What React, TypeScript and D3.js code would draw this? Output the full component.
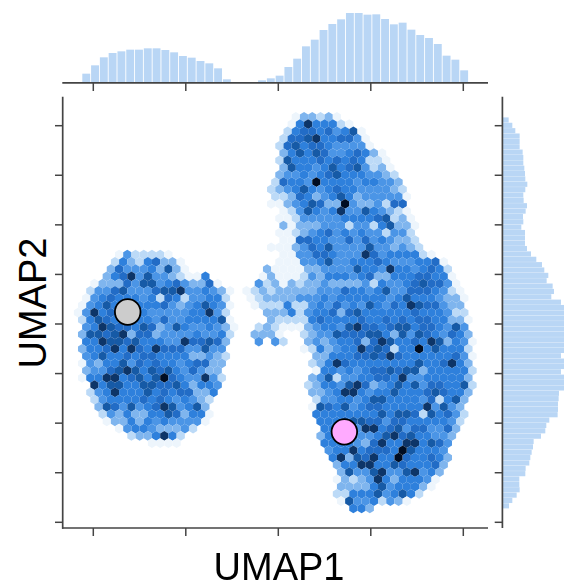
import React from "react";
import * as d3 from "d3";

const WIDTH = 564;
const HEIGHT = 585;

const xLabel = "UMAP1";
const yLabel = "UMAP2";

// Tick values in data units (tick labels are hidden in the reference)
const xTickValues = [-10, -5, 0, 5, 10];
const yTickValues = [10, 8, 6, 4, 2, 0, -2, -4, -6];

// Marginal histogram counts, left to right
const topHist = [25, 50, 74, 87, 92, 97, 97, 101, 101, 96, 89, 78, 73, 63, 56, 41, 8, 0, 0, 0, 5, 11, 19, 45, 70, 107, 127, 156, 174, 188, 207, 207, 202, 203, 189, 173, 178, 157, 141, 132, 114, 79, 67, 35];
// Marginal histogram counts, top to bottom
const rightHist = [17, 28, 37, 50, 50, 50, 59, 61, 61, 64, 66, 67, 73, 67, 61, 62, 72, 68, 60, 61, 55, 66, 66, 66, 72, 84, 100, 117, 124, 136, 131, 149, 153, 145, 174, 184, 190, 195, 200, 205, 200, 196, 190, 192, 174, 184, 190, 174, 185, 190, 184, 168, 167, 165, 165, 164, 139, 130, 127, 114, 92, 90, 86, 82, 79, 68, 67, 49, 49, 50, 41, 28, 18];

// Hexbin cells: [grid row, first grid column, intensity levels 0-9 per cell]
const leftCluster: [number, number, string][] = [
  [19, 4, "1422221"],
  [20, 4, "253256331"],
  [21, 3, "3644453731"],
  [22, 3, "3568474432115"],
  [23, 1, "1333647745643361"],
  [24, 1, "244674446778445431"],
  [25, 0, "145655545265244552"],
  [26, 0, "1457555555643457541"],
  [27, -1, "1485655554444455842"],
  [28, 0, "2576544554644555571"],
  [29, 0, "4587665763475445431"],
  [30, 0, "3776783663444454452"],
  [31, 0, "558776755544866763"],
  [32, 0, "355685865866644744"],
  [33, 0, "457556566555533432"],
  [34, 0, "143557465655456633"],
  [35, 0, "34467875767546433"],
  [36, 0, "155885675796544842"],
  [37, 1, "8577557766753554"],
  [38, 1, "2458555756566335"],
  [39, 1, "245555656545432"],
  [40, 2, "37647456874573"],
  [41, 2, "24353355763551"],
  [42, 3, "1335354544441"],
  [43, 4, "1455433342"],
  [44, 6, "2335852"],
  [45, 8, "1111"],
];
const rightCluster: [number, number, string][] = [
  [0, 26, "133231"],
  [1, 25, "15855521"],
  [2, 25, "2566564571"],
  [3, 24, "26678556641"],
  [4, 24, "267566544441"],
  [5, 24, "3575764456531"],
  [6, 24, "27555656565221"],
  [7, 24, "37554575674231"],
  [8, 24, "344545675554432"],
  [9, 23, "2655495555455443"],
  [10, 23, "23457545655444432"],
  [11, 23, "22365345753444441"],
  [12, 23, "11345763394334266"],
  [13, 24, "1247545844754321"],
  [14, 24, "11244444555567231"],
  [15, 24, "31333444244257331"],
  [16, 24, "11234564545442442"],
  [17, 24, "11665544646454332"],
  [18, 23, "1113465744447443432"],
  [19, 24, "1144665444864555521"],
  [20, 24, "111445744555654445561"],
  [21, 22, "31111334444755485545652"],
  [22, 22, "131112435554563355566551"],
  [23, 21, "4231323343333425445676641"],
  [24, 20, "123233333444655457446665421"],
  [25, 20, "123333444545555554575554331"],
  [26, 21, "12225224546454754658766433"],
  [27, 22, "3335245563675555556555422"],
  [28, 23, "3222256555565565656655331"],
  [29, 21, "23211134554786656775665474"],
  [30, 21, "333100234476667753747654653"],
  [31, 21, "404200343455636875565873541"],
  [32, 27, "125345586762559575552"],
  [33, 28, "33555667686555555641"],
  [34, 28, "23586555555557556853"],
  [35, 28, "15545456676773555552"],
  [36, 28, "34724455665844555553"],
  [37, 27, "235547863457574665572"],
  [38, 28, "33458854557555676553"],
  [39, 28, "2445545775555462573"],
  [40, 28, "1765745665555584743"],
  [41, 28, "5555555575776275642"],
  [42, 29, "555677664665555542"],
  [43, 29, "55554885674664463"],
  [44, 29, "35556445786755443"],
  [45, 29, "5555436855885764"],
  [46, 30, "455856665975554"],
  [47, 30, "583768559655653"],
  [48, 31, "35588557655563"],
  [49, 31, "3744784478453"],
  [50, 31, "1323485355541"],
  [51, 31, "333357455531"],
  [52, 31, "22555745752"],
  [53, 31, "174452431"],
  [54, 33, "553"],
];

// Highlighted cells, in data units
const highlightNames = ["grey", "pink"];
const highlightX = [-8.14, 3.57];
const highlightY = [2.485, -2.35];
const highlightFill = ["#cccccc", "#ffaaff"];

const levelDomain = [0, 1, 2, 3, 4, 5, 6, 7, 8, 9];
const levelRange = ["#ffffff", "#edf5fc", "#bcdaf7", "#7fb5ee", "#4b95e6", "#2e80dc", "#216cc6", "#175aa6", "#0e3468", "#030f22"];

export default function App() {
  const xScale = d3.scaleLinear().domain([-10, 10]).range([93.3, 463.3]);
  const yScale = d3.scaleLinear().domain([10, -6]).range([125.7, 522.3]);
  const colX = d3.scaleLinear().domain([0, 1]).range([82.1, 90.32]);
  const rowY = d3.scaleLinear().domain([0, 1]).range([116.9, 124.15]);
  const color = d3.scaleLinear<string>().domain(levelDomain).range(levelRange);

  const hw = 4.11;
  const hh = 4.83;
  const hexPath = d3.line().curve(d3.curveLinearClosed)([
    [0, -hh], [hw, -hh / 2], [hw, hh / 2], [0, hh], [-hw, hh / 2], [-hw, -hh / 2],
  ]) as string;

  const cells = [...leftCluster, ...rightCluster].flatMap(([r, c0, s]) =>
    Array.from(s).map((ch, i) => ({ r, c: c0 + i, level: +ch })).filter((d) => d.level > 0)
  );

  const topBin = d3.scaleLinear().domain([0, topHist.length]).range([81.9, 468.6]);
  const topH = d3.scaleLinear().domain([0, 207]).range([82, 13]);
  const rightBin = d3.scaleLinear().domain([0, rightHist.length]).range([117.3, 508.5]);
  const rightW = d3.scaleLinear().domain([0, 184]).range([503, 564.3]);

  const ink = "#444444";
  const barFill = "#b9d6f5";

  return (
    <svg width={WIDTH} height={HEIGHT} style={{ position: "absolute", left: 0, top: 0 }} fontFamily="'Liberation Sans', Arial, sans-serif">
      <defs>
        <filter id="soft" x="-5%" y="-5%" width="110%" height="110%">
          <feGaussianBlur stdDeviation="0.55" />
        </filter>
      </defs>
      <rect width={WIDTH} height={HEIGHT} fill="#ffffff" />

      {/* top marginal */}
      <g filter="url(#soft)">
        {topHist.map((v, i) =>
          v > 0 ? (
            <rect key={i} x={topBin(i) + 0.4} width={topBin(i + 1) - topBin(i) - 0.9} y={topH(v)} height={topH(0) - topH(v)} fill={barFill} />
          ) : null
        )}
      </g>
      <line x1={62.3} x2={488} y1={82.8} y2={82.8} stroke={ink} strokeWidth={1.7} />
      {xTickValues.map((t) => (
        <line key={t} x1={xScale(t)} x2={xScale(t)} y1={83} y2={91} stroke={ink} strokeWidth={1.5} />
      ))}

      {/* right marginal */}
      <g filter="url(#soft)">
        {rightHist.map((v, i) => (
          <rect key={i} x={503} width={rightW(v) - 503} y={rightBin(i) + 0.1} height={rightBin(i + 1) - rightBin(i) - 0.2} fill={barFill} />
        ))}
      </g>
      <line x1={502.4} x2={502.4} y1={96.7} y2={528} stroke={ink} strokeWidth={1.7} />
      {yTickValues.map((t) => (
        <line key={t} x1={494.7} x2={502.4} y1={yScale(t)} y2={yScale(t)} stroke={ink} strokeWidth={1.5} />
      ))}

      {/* hexbin */}
      <g filter="url(#soft)">
        {cells.map((d, i) => (
          <path
            key={i}
            d={hexPath}
            transform={`translate(${colX(d.c) + (d.r % 2 ? 4.11 : 0)},${rowY(d.r)})`}
            fill={color(d.level)}
          />
        ))}
      </g>

      {/* main axes */}
      <line x1={62.7} x2={62.7} y1={96.7} y2={528.8} stroke={ink} strokeWidth={1.7} />
      <line x1={62} x2={488} y1={528} y2={528} stroke={ink} strokeWidth={1.7} />
      {yTickValues.map((t) => (
        <line key={t} x1={55} x2={62.7} y1={yScale(t)} y2={yScale(t)} stroke={ink} strokeWidth={1.5} />
      ))}
      {xTickValues.map((t) => (
        <line key={t} x1={xScale(t)} x2={xScale(t)} y1={528} y2={536} stroke={ink} strokeWidth={1.5} />
      ))}

      {/* highlighted points */}
      {highlightNames.map((n, i) => (
        <circle key={n} cx={xScale(highlightX[i])} cy={yScale(highlightY[i])} r={12.8} fill={highlightFill[i]} stroke="#000000" strokeWidth={1.8} />
      ))}

      <text x={279} y={580} textAnchor="middle" fontSize={38} fill="#000000">{xLabel}</text>
      <text transform="translate(46,303) rotate(-90)" textAnchor="middle" fontSize={38} fill="#000000">{yLabel}</text>
    </svg>
  );
}
